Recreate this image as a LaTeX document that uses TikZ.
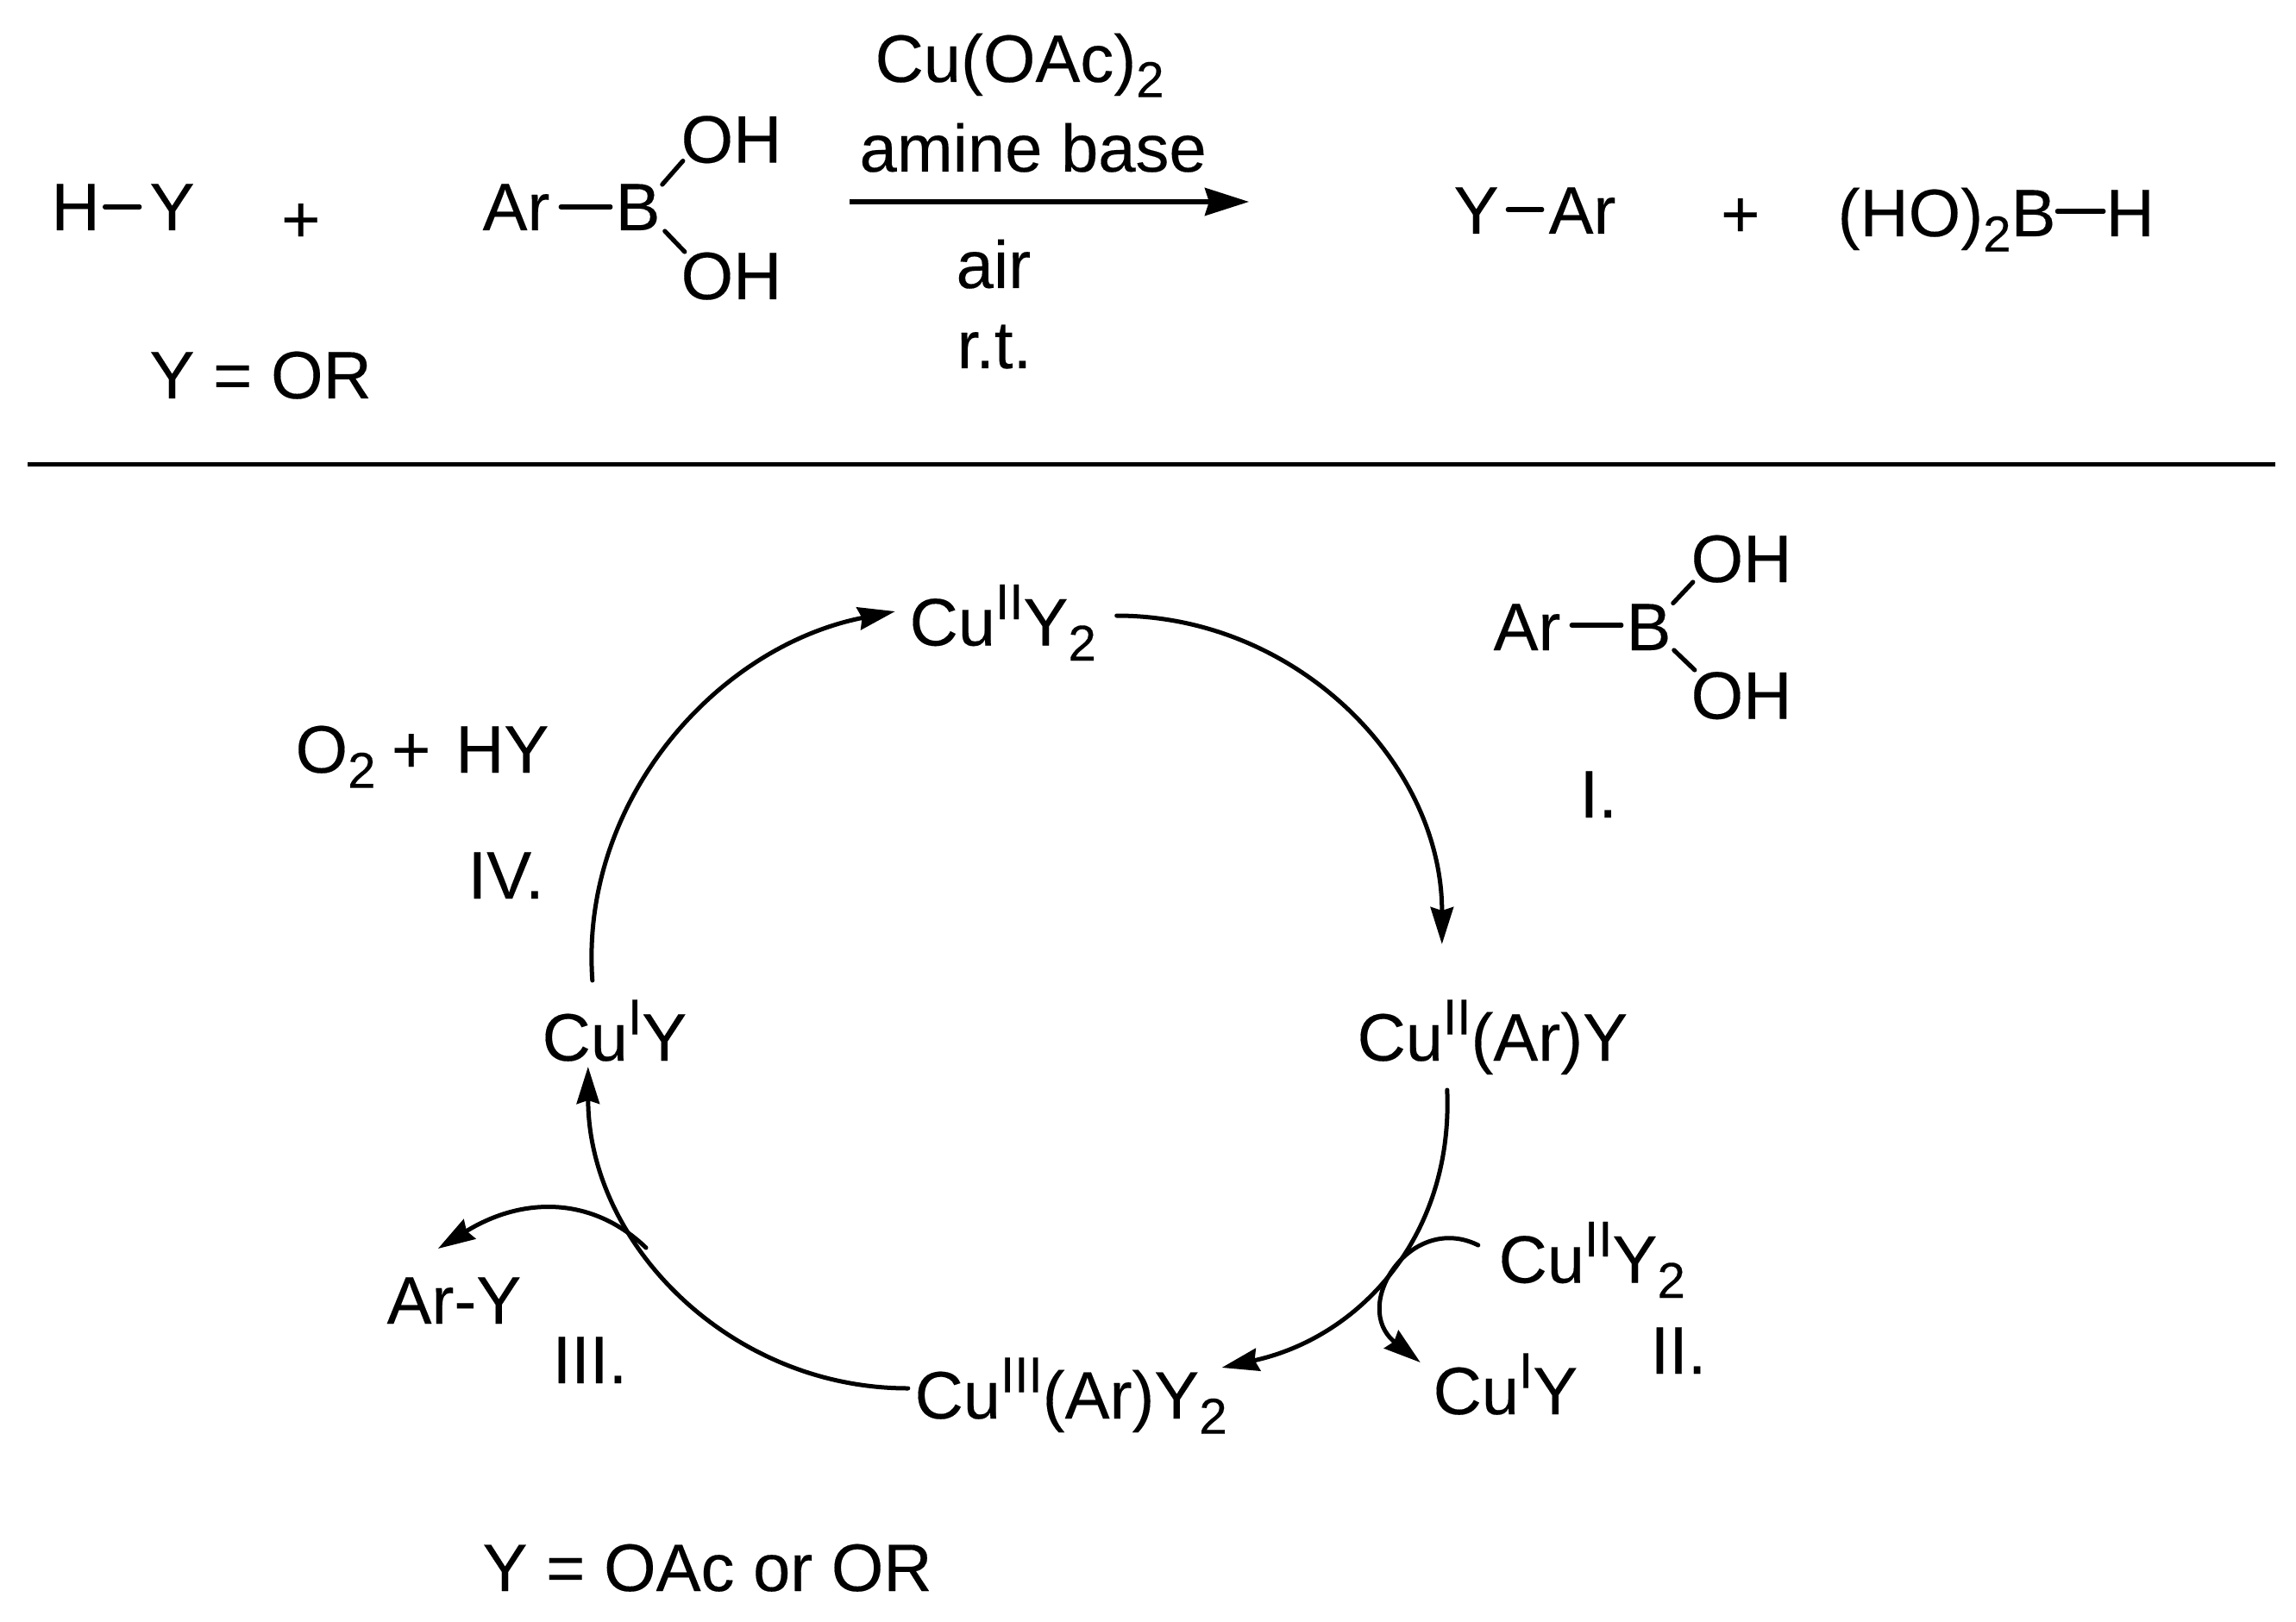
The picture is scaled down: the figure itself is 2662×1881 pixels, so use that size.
\documentclass[tikz,border=0pt]{standalone}
\usepackage{fontspec}
\setmainfont{Liberation Sans}[FakeBold=0.2]
\usetikzlibrary{arrows.meta,calc}
\newcommand{\sbs}[1]{\raisebox{-4.4pt}{\fontsize{14.6}{16}\selectfont #1}}
\newcommand{\sps}[1]{\raisebox{7.6pt}{\fontsize{14.6}{16}\selectfont #1}}

\begin{document}
\begin{tikzpicture}[
		x=0.25pt,y=-0.25pt,
		lab/.style={font=\fontsize{19.45}{23}\selectfont,inner sep=0pt,anchor=base west,xshift=-0.3pt},
		sign/.style={lab,anchor=base},
		bond/.style={line width=1.3pt,line cap=round},
		rulebar/.style={line width=1.3pt},
		rxn/.style={line width=1.3pt,-{Stealth[length=12.75pt,width=8pt,inset=1.2pt]}},
		arr/.style={line width=1.25pt,line cap=round,-{Stealth[length=10.75pt,width=6.6pt,inset=1pt]}}
		]
		\useasboundingbox (0,0) rectangle (2662,1881);
		
		% --- Overall reaction
		\node[lab] (h1) at (60,267) {H};
		\node[lab] (y1) at (174,267) {Y};
		\node[sign] (plus1) at (350,281) {+};
		\node[lab] (ar1) at (560,267) {Ar};
		\node[lab] (b1) at (714,267) {B};
		\node[lab] (oh1) at (790,188.6) {OH};
		\node[lab] (oh2) at (790,347) {OH};
		\node[lab] (yor) at (174,462) {Y = OR};
		
		\draw[bond] ($(h1.base east)+(5,-27)$) -- ($(y1.base west)+(-11,-27)$);
		\draw[bond] ($(ar1.base east)+(12,-27)$) -- ($(b1.base west)+(-5,-27)$);
		\draw[bond] ($(b1.base west)+(55,-53)$) -- ($(oh1.base west)+(3,-2)$);
		\draw[bond] ($(b1.base west)+(58,1)$) -- ($(oh2.base west)+(5,-55)$);
		
		\node[lab] (cat) at (1015,95) {Cu(OAc)\sbs{2}};
		\node[lab] (base) at (997,199) {amine base};
		\node[lab] (air) at (1109,334) {air};
		\node[lab] (rt) at (1110,427) {r.t.};
		\coordinate (rxnstart) at (985,234);
		\coordinate (rxnend) at (1448,234);
		\draw[rxn] (rxnstart) -- (rxnend);
		
		\node[lab] (y2) at (1686,271) {Y};
		\node[lab] (ar2) at (1796,271) {Ar};
		\node[sign] (plus2) at (2019,275) {+};
		\node[lab] (hob) at (2131,274) {(HO)\sbs{2}B};
		\node[lab] (h2) at (2442,274) {H};
		
		\draw[bond] ($(y2.base east)+(10,-28)$) -- ($(ar2.base west)+(-7,-28)$);
		\draw[bond] ($(hob.base east)+(1,-29)$) -- ($(h2.base west)+(-2,-29)$);
		
		% --- Divider
		\coordinate (ruleleft) at (32,538.6);
		\coordinate (ruleright) at (2638,538.6);
		\draw[rulebar] (ruleleft) -- (ruleright);
		
		% --- Catalytic cycle
		\node[lab] (cutwo) at (1055,748.5) {Cu\sps{II}Y\sbs{2}};
		\node[lab] (cuar) at (1574,1230) {Cu\sps{II}(Ar)Y};
		\node[lab] (cuthree) at (1061,1645) {Cu\sps{III}(Ar)Y\sbs{2}};
		\node[lab] (cuone) at (629,1230) {Cu\sps{I}Y};
		
		\draw[arr] ($(cutwo.base east)+(23,-34.5)$)
		.. controls (1503,714) and (1672,885) .. ($(cuar.base west)+(99,-135)$);
		\draw[arr] ($(cuar.base west)+(105,34)$)
		.. controls (1685,1430) and (1580,1550) .. ($(cuthree.base east)+(-7,-59)$);
		\draw[arr] ($(cuthree.base west)+(-7,-35)$)
		.. controls (847,1610) and (682,1443) .. ($(cuone.base west)+(54,7)$);
		\draw[arr] ($(cuone.base west)+(59,-93)$)
		.. controls (672,930) and (830,750) .. ($(cutwo.base west)+(-16,-39.5)$);
		
		% --- Step I
		\node[lab] (ar3) at (1732,754) {Ar};
		\node[lab] (b3) at (1886,754) {B};
		\node[lab] (oh3) at (1961,675) {OH};
		\node[lab] (oh4) at (1961,833.5) {OH};
		\node[lab] (stepi) at (1832,948) {I.};
		
		\draw[bond] ($(ar3.base east)+(12,-29)$) -- ($(b3.base west)+(-5,-29)$);
		\draw[bond] ($(b3.base west)+(55,-54.5)$) -- ($(oh3.base west)+(3,0)$);
		\draw[bond] ($(b3.base west)+(56,0)$) -- ($(oh4.base west)+(5,-56.5)$);
		
		% --- Step II
		\node[lab] (cutwob) at (1738,1487.5) {Cu\sps{II}Y\sbs{2}};
		\node[lab] (cuoneb) at (1662,1640) {Cu\sps{I}Y};
		\node[lab] (stepii) at (1914,1593) {II.};
		\draw[arr] ($(cutwob.base west)+(-23,-43.5)$)
		.. controls (1635,1405) and (1565,1515) .. ($(cuoneb.base west)+(-14,-60)$);
		
		% --- Step III
		\node[lab] (ary) at (449,1535) {Ar-Y};
		\node[lab] (stepiii) at (641,1604) {III.};
		\coordinate (offcycle) at (749,1447);
		\draw[arr] (offcycle)
		.. controls (690,1390) and (610,1385) .. ($(ary.base west)+(60,-87)$);
		
		% --- Step IV
		\node[lab] (oxy) at (343,896) {O\sbs{2}\hspace{-0.8pt} + \hspace{1.8pt}HY};
		\node[lab] (stepiv) at (543,1042) {IV.};
		
		\node[lab] (yoac) at (560,1845) {Y = OAc or OR};
		
	\end{tikzpicture}
\end{document}
